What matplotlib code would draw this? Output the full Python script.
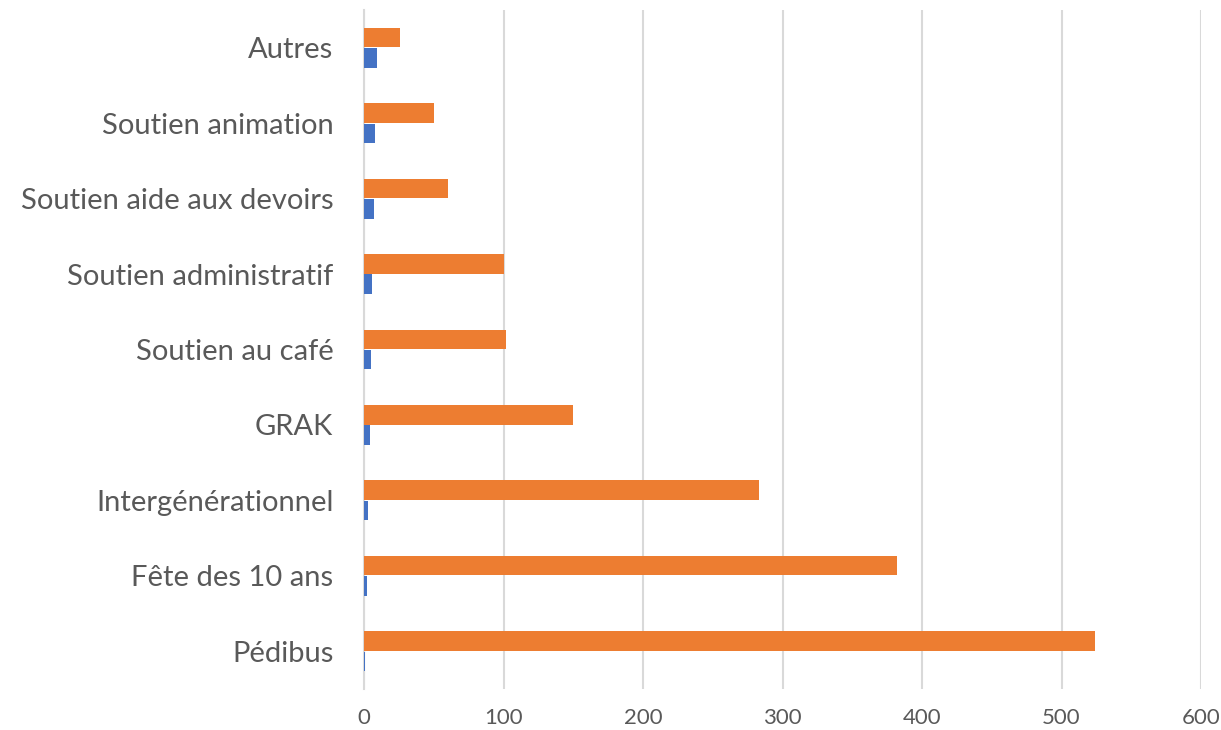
import matplotlib
matplotlib.use("Agg")
import matplotlib.pyplot as plt
import numpy as np

categories = ["Pédibus", "Fête des 10 ans", "Intergénérationnel", "GRAK",
              "Soutien au café", "Soutien administratif", "Soutien aide aux devoirs",
              "Soutien animation", "Autres"]
series_blue = [1, 2, 3, 4, 5, 6, 7, 8, 9]
series_orange = [524, 382, 283, 150, 102, 100, 60, 50, 26]
xticks = [0, 100, 200, 300, 400, 500, 600]

plt.rcParams['font.family'] = ['Lato', 'DejaVu Sans']

fig = plt.figure(figsize=(12.21, 7.30), dpi=100)
ax = fig.add_axes([364/1221, 1-689/730, (1201-364)/1221, (689-10)/730])

y = np.arange(len(categories))
h = 0.26
ax.barh(y - 0.135, series_blue, height=h, color="#4472C4", zorder=3)
ax.barh(y + 0.135, series_orange, height=h, color="#ED7D31", zorder=3)

ax.set_xlim(0, 600)
ax.set_ylim(-0.5, len(categories) - 0.5)
ax.set_xticks(xticks)
ax.set_xticklabels([str(t) for t in xticks])
ax.set_yticks(y)
ax.set_yticklabels(categories)
ax.grid(axis="x", color="#D9D9D9", linewidth=1.5, zorder=0)
for s in ["top", "right", "bottom"]:
    ax.spines[s].set_visible(False)
ax.spines["left"].set_color("#D9D9D9")
ax.spines["left"].set_linewidth(1.5)
ax.tick_params(axis="y", length=0, pad=22, labelsize=21, labelcolor="#595959")
ax.tick_params(axis="x", length=0, pad=14, labelsize=16, labelcolor="#595959")

fig.savefig("out.png", dpi=100)
